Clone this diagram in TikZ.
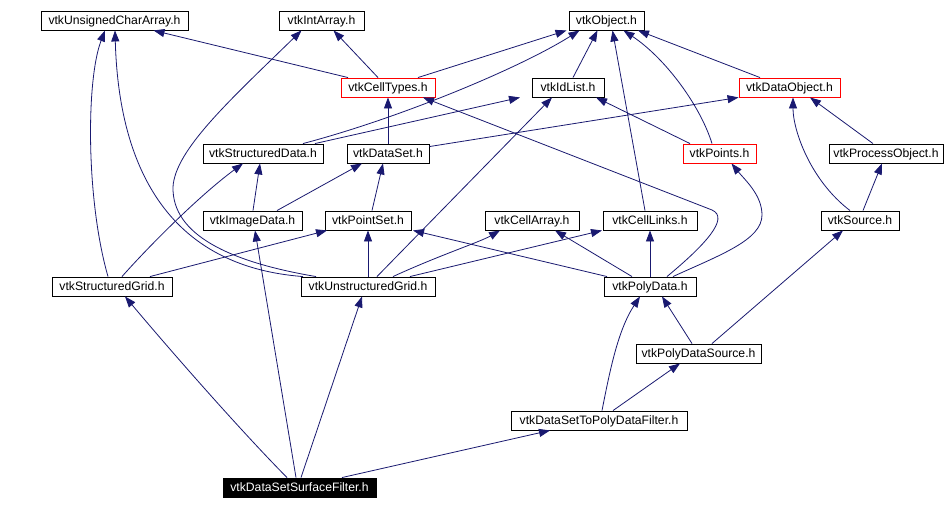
\documentclass[tikz,border=0pt]{standalone}
\usepackage{fontspec}
\setmainfont{Liberation Sans}
\usetikzlibrary{arrows.meta}
\definecolor{edgeblue}{RGB}{25,25,112}
\begin{document}
\begin{tikzpicture}[x=1pt,y=-1pt,
  box/.style={draw=black,fill=white,line width=0.9pt,inner sep=0pt,minimum height=19pt,
    text height=9.5pt,text depth=1.2pt,
    font=\fontsize{12.2pt}{13pt}\selectfont,anchor=center},
  redbox/.style={box,draw=red},
  blackbox/.style={box,fill=black,text=white},
  edge/.style={draw=edgeblue,line width=0.8pt,-{Triangle[length=11pt,width=8pt]}}]
\useasboundingbox (0,0) rectangle (946,509);
\fill[white] (0,0) rectangle (946,509);
% nodes
\node[box,minimum width=147pt] (uca) at (114.5,20.5) {vtkUnsignedCharArray.h};
\node[box,minimum width=85pt] (ia) at (321.5,20.5) {vtkIntArray.h};
\node[box,minimum width=75pt] (ob) at (606.5,20.5) {vtkObject.h};
\node[redbox,minimum width=94pt] (ct) at (388,87.5) {vtkCellTypes.h};
\node[box,minimum width=72pt] (il) at (568,87.5) {vtkIdList.h};
\node[redbox,minimum width=101pt] (do) at (789.5,87.5) {vtkDataObject.h};
\node[box,minimum width=120pt] (sd) at (263,153.5) {vtkStructuredData.h};
\node[box,minimum width=82pt] (ds) at (388,153.5) {vtkDataSet.h};
\node[redbox,minimum width=73pt] (pt) at (719.5,153.5) {vtkPoints.h};
\node[box,minimum width=114pt] (po) at (886,153.5) {vtkProcessObject.h};
\node[box,minimum width=99pt] (id) at (252.5,220.5) {vtkImageData.h};
\node[box,minimum width=86pt] (ps) at (368,220.5) {vtkPointSet.h};
\node[box,minimum width=94pt] (ca) at (532,220.5) {vtkCellArray.h};
\node[box,minimum width=94pt] (cl) at (650,220.5) {vtkCellLinks.h};
\node[box,minimum width=78pt] (so) at (860,220.5) {vtkSource.h};
\node[box,minimum width=120pt] (sg) at (112,286.5) {vtkStructuredGrid.h};
\node[box,minimum width=134pt] (ug) at (368,286.5) {vtkUnstructuredGrid.h};
\node[box,minimum width=92pt] (pd) at (650,286.5) {vtkPolyData.h};
\node[box,minimum width=125pt] (pds) at (698.5,353.5) {vtkPolyDataSource.h};
\node[box,minimum width=176pt] (df) at (599,420.5) {vtkDataSetToPolyDataFilter.h};
\node[blackbox,minimum width=153pt] (sf) at (299.5,487.5) {vtkDataSetSurfaceFilter.h};
% edges (child -> parent)
\draw[edge] ([xshift=30pt]ct.north) -- ([xshift=-40pt]ob.south);
\draw[edge] ([xshift=40pt]sd.north) .. controls (400,118) and (520,68) .. ([xshift=-27pt]ob.south);
\draw[edge] ([xshift=5pt]il.north) -- ([xshift=-9pt]ob.south);
\draw[edge] ([xshift=-5pt]cl.north) -- ([xshift=6pt]ob.south);
\draw[edge] ([xshift=-7.5pt]pt.north) .. controls (700,105) and (665,58) .. ([xshift=17pt]ob.south);
\draw[edge] ([xshift=-29.5pt]do.north) -- ([xshift=31.5pt]ob.south);
\draw[edge] ([xshift=52pt]sd.north) -- ([xshift=-48pt]il.south);
\draw[edge] ([xshift=9pt]ug.north) -- ([xshift=-16pt]il.south);
\draw[edge] ([xshift=-29.5pt]pt.north) -- ([xshift=28pt]il.south);
\draw[edge] ([yshift=-3pt]ds.north east) -- (do.south west);
\draw[edge] ([xshift=-10pt]so.north) .. controls (810,180) and (793,130) .. ([xshift=3.5pt]do.south);
\draw[edge] ([xshift=-13pt]po.north) -- ([xshift=20.5pt]do.south);
\draw[edge] ([xshift=3pt]so.north) -- ([xshift=-4pt]po.south);
\draw[edge] (ds.north) -- (ct.south);
\draw[edge] ([xshift=-40pt]ct.north) -- ([xshift=39pt]uca.south);
\draw[edge] ([xshift=-10pt]ct.north) -- ([xshift=12pt]ia.south);
\draw[edge] ([xshift=-4pt]sg.north) .. controls (86,200) and (86,80) .. ([xshift=-9.5pt]uca.south);
\draw[edge] ([xshift=-65pt]ug.north) .. controls (150,265) and (118,140) .. ([xshift=0.5pt]uca.south);
\draw[edge] ([xshift=-52pt]ug.north) .. controls (230,262) and (172,235) .. (173,187)
  .. controls (175,150) and (230,100) .. ([xshift=-20pt]ia.south);
\draw[edge] (ug.north) -- (ps.south);
\draw[edge] ([xshift=25pt]ug.north) .. controls (440,255) and (480,242) .. ([xshift=-32pt]ca.south);
\draw[edge] ([xshift=42pt]ug.north) -- ([xshift=-48pt]cl.south);
\draw[edge] ([xshift=-43pt]pd.north) -- ([xshift=45pt]ps.south);
\draw[edge] ([xshift=-18pt]pd.north) -- ([xshift=23pt]ca.south);
\draw[edge] (pd.north) -- (cl.south);
\draw[edge] ([xshift=17pt]pd.north) .. controls (705,245) and (730,218) .. (712,210) -- ([xshift=35pt]ct.south);
\draw[edge] ([xshift=23pt]pd.north) .. controls (720,255) and (762,240) .. (762,215)
  .. controls (762,195) and (745,180) .. ([xshift=12pt]pt.south);
\draw[edge] ([xshift=-6.5pt]pds.north) -- ([xshift=12pt]pd.south);
\draw[edge] ([xshift=13.5pt]pds.north) -- ([xshift=-17pt]so.south);
\draw[edge] ([xshift=3pt]df.north) .. controls (610,370) and (618,330) .. ([xshift=-10pt]pd.south);
\draw[edge] ([xshift=14pt]df.north) -- ([xshift=-18.5pt]pds.south);
\draw[edge] ([xshift=-12.5pt]sf.north) .. controls (240,430) and (170,350) .. ([xshift=13pt]sg.south);
\draw[edge] ([xshift=-3.5pt]sf.north) -- ([xshift=2.5pt]id.south);
\draw[edge] ([xshift=1.5pt]sf.north) -- ([xshift=-6pt]ug.south);
\draw[edge] ([xshift=42.5pt]sf.north) -- ([xshift=-49pt]df.south);
\draw[edge] ([xshift=0.5pt]id.north) -- ([xshift=-3pt]sd.south);
\draw[edge] ([xshift=24.5pt]id.north) -- ([xshift=-26pt]ds.south);
\draw[edge] ([xshift=10pt]sg.north) .. controls (150,245) and (200,195) .. ([xshift=-20pt]sd.south);
\draw[edge] ([xshift=38pt]sg.north) -- ([xshift=-41pt]ps.south);
\draw[edge] ([xshift=4pt]ps.north) -- ([xshift=-5pt]ds.south);
\end{tikzpicture}
\end{document}
